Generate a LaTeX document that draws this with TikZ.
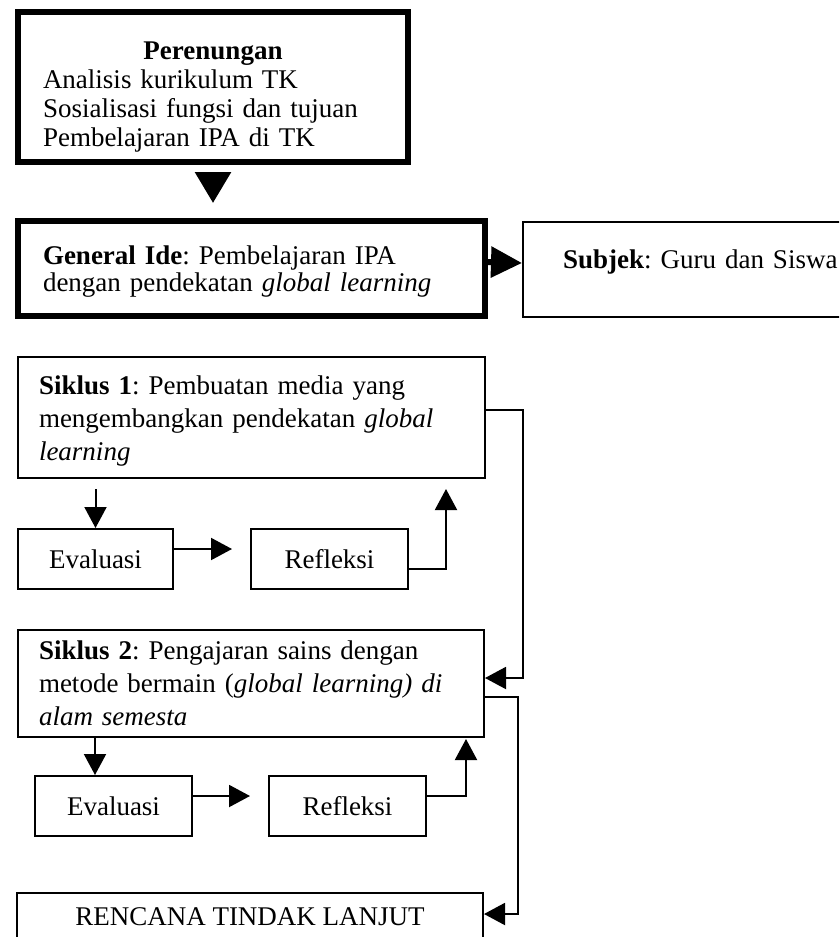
\documentclass[tikz,border=0pt]{standalone}
\usepackage{fontspec}
\setmainfont{Liberation Serif}
\usetikzlibrary{positioning,arrows.meta}
\frenchspacing

\begin{document}
\begin{tikzpicture}[
        x=1pt, y=-1pt,
        txt/.style={font=\fontsize{27}{29}\selectfont},
        boldbox/.style={rectangle, draw, line width=6pt, txt, align=left, inner xsep=25pt, inner ysep=0pt},
        box/.style={rectangle, draw, line width=2pt, txt, align=center, inner sep=0pt},
        arrow/.style={draw, line width=2pt, -{Triangle[width=22pt,length=21pt]}},
        bigarrow/.style={draw, line width=6pt, -{Triangle[width=35pt,length=31pt]}}
    ]
        \useasboundingbox (0,0) rectangle (839,937);
        \clip (0,0) rectangle (839,937);

        \node[boldbox, text width=340pt, minimum height=150pt] (per) at (213,87)
            {{\centering\rule{0pt}{37pt}\textbf{Perenungan}\par}
             Analisis kurikulum TK\\
             Sosialisasi fungsi dan tujuan\\
             Pembelajaran IPA di TK};
        \node[boldbox, text width=417pt, minimum height=95pt, font=\fontsize{27}{27}\selectfont] (ide) at (251.5,268.5)
            {\rule{0pt}{24pt}\textbf{General Ide}: Pembelajaran IPA\\
             dengan pendekatan \textit{global learning}};
        \node[box, align=left, text width=290pt, inner xsep=40pt, minimum height=95pt, text depth=21pt] (subj) at (708,269.5)
            {\textbf{Subjek}: Guru dan Siswa};

        \node[box, align=left, text width=425pt, inner xsep=21pt, minimum height=121pt, font=\fontsize{27}{33}\selectfont] (s1) at (251.5,417.5)
            {\rule{0pt}{26pt}\textbf{Siklus 1}: Pembuatan media yang\\
             mengembangkan pendekatan \textit{global}\\
             \textit{learning}};
        \node[box, minimum width=155pt, minimum height=60pt] (ev1) at (95.5,559) {Evaluasi};
        \node[box, minimum width=157pt, minimum height=60pt] (re1) at (329.5,559) {Refleksi};

        \node[box, align=left, text width=424pt, inner xsep=21pt, minimum height=107pt, font=\fontsize{27}{33}\selectfont] (s2) at (251,683.5)
            {\textbf{Siklus 2}: Pengajaran sains dengan\\
             metode bermain (\textit{global learning) di}\\
             \textit{alam semesta}};
        \node[box, minimum width=157pt, minimum height=60pt] (ev2) at (113.5,806) {Evaluasi};
        \node[box, minimum width=157pt, minimum height=60pt] (re2) at (347.5,806) {Refleksi};

        \node[box, minimum width=466pt, minimum height=48pt] (rtl) at (250,917) {RENCANA TINDAK LANJUT};

        \draw[bigarrow, shorten <=7pt, shorten >=15pt] (per.south) -- (per.south |- ide.north);
        \draw[bigarrow, -{Triangle[width=30pt,length=31pt]}] ([yshift=6.5pt]ide.east) -- ([yshift=6.5pt]subj.west);

        \draw[arrow, shorten <=10pt] (ev1.north |- s1.south) -- (ev1.north);
        \draw[arrow, shorten >=18pt] ([yshift=10pt]ev1.east) -- ([yshift=10pt]re1.west);
        \draw[arrow, shorten >=10pt] ([yshift=-10pt]re1.east) -| ([xshift=-40pt]s1.south east);
        \draw[arrow] ([yshift=7.5pt]s1.east) -- ++(37,0) |- ([yshift=5.5pt]s2.east);

        \draw[arrow] ([xshift=61pt]ev2.north west |- s2.south) -- ([xshift=61pt]ev2.north west);
        \draw[arrow, shorten >=18pt] ([yshift=10pt]ev2.east) -- ([yshift=10pt]re2.west);
        \draw[arrow, shorten >=1pt] ([yshift=10pt]re2.east) -| ([xshift=-19pt]s2.south east);
        \draw[arrow] ([yshift=-13.5pt]s2.east) -- ++(33,0) |- ([yshift=3pt]rtl.east);
    \end{tikzpicture}
\end{document}
